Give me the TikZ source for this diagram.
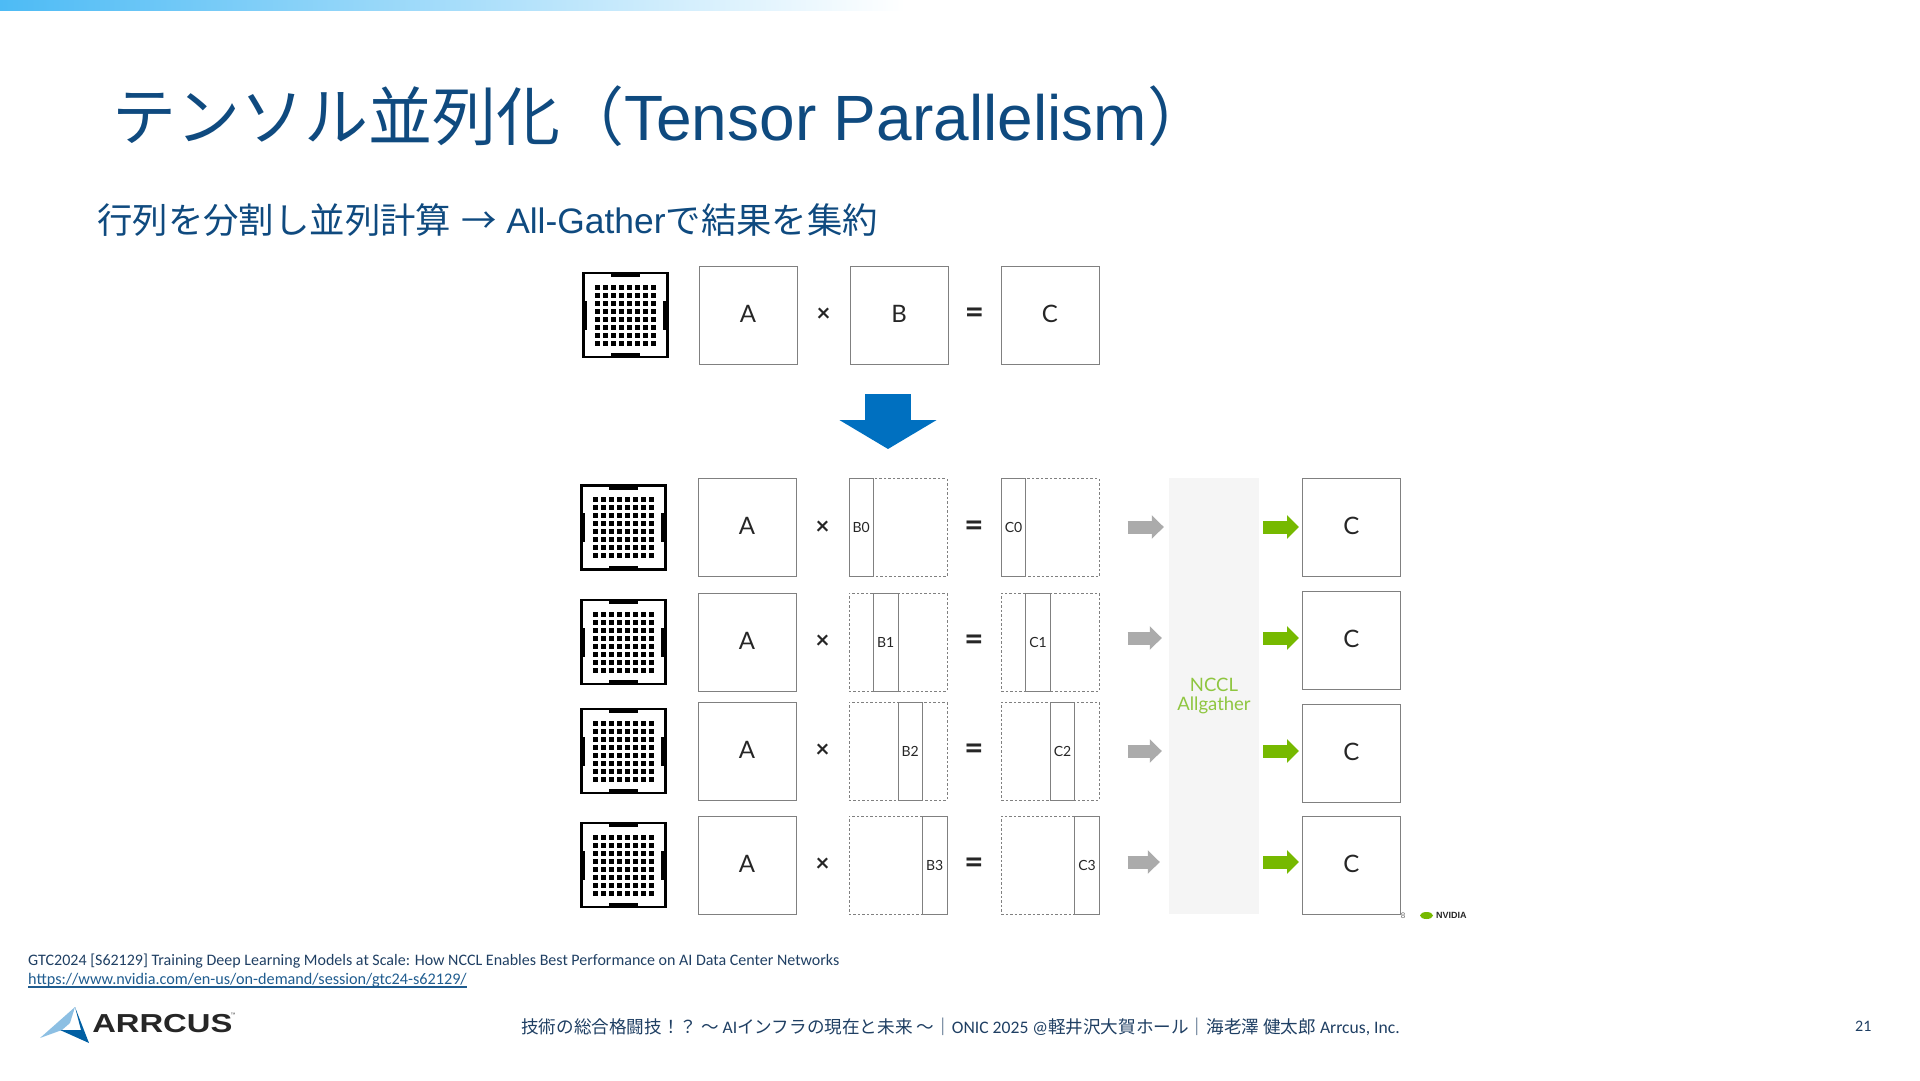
\documentclass[tikz,border=0pt]{standalone}
\usepackage{fontspec}
\setmainfont{Liberation Sans}
\newfontfamily\cjk{Noto Sans CJK JP}
\newfontfamily\lato{Lato}
\newfontfamily\foot{Carlito}
\usetikzlibrary{positioning,calc,arrows.meta}

\definecolor{titleblue}{HTML}{0F4A7F}
\definecolor{footblue}{HTML}{1F3F63}
\definecolor{linkblue}{HTML}{1F5C8F}
\definecolor{boxgray}{HTML}{808080}
\definecolor{flowgray}{HTML}{ABABAB}
\definecolor{flowgreen}{HTML}{76B900}
\definecolor{labelgreen}{HTML}{8FC640}
\definecolor{panelgray}{HTML}{F5F5F5}
\definecolor{downblue}{HTML}{0070C0}
\definecolor{barblue}{HTML}{4DBBF5}

\newcommand{\jp}[1]{{\cjk #1}}
\newcommand{\px}[1]{\fontsize{#1}{#1}\selectfont}

\begin{document}
\begin{tikzpicture}[
  x=1pt, y=-1pt,
  mat/.style={draw=boxgray, line width=1pt, minimum size=98pt, inner sep=0pt, text depth=3pt, font=\lato\px{24}, text=black!85},
  dashmat/.style={draw=boxgray, line width=0.8pt, dash pattern=on 2.5pt off 2pt, minimum size=98pt, inner sep=0pt},
  strip/.style={draw=boxgray, line width=1pt, minimum width=24.5pt, minimum height=98pt, inner sep=0pt, font=\lato\px{14}, text=black!85},
  chip/.style={draw=black, line width=2.6pt, minimum width=84pt, minimum height=84pt, inner sep=0pt},
  opsign/.style={font=\lato\bfseries\px{24}, text=black!85, inner sep=0pt},
  eqsign/.style={font=\lato\bfseries\px{33}, text=black!85, inner sep=0pt, yshift=-1pt},
  grayflow/.style={line width=13pt, draw=flowgray, -{Triangle[length=12pt, width=23pt]}},
  greenflow/.style={line width=13pt, draw=flowgreen, -{Triangle[length=12pt, width=23pt]}},
  footer/.style={font=\foot\px{16}, text=footblue, inner sep=0pt, anchor=base west}
]
\useasboundingbox (0,0) rectangle (1920,1080);
\fill[left color=barblue, right color=white] (0,0) rectangle (905,10);

\node[anchor=base west, inner sep=0pt, text=titleblue, font=\px{64}] (title) at (112,140)
  {\jp{テンソル並列化（}Tensor Parallelism\jp{）}};
\node[anchor=base west, inner sep=0pt, text=titleblue, font=\px{35.4}] (subtitle) at (97,233)
  {\jp{行列を分割し並列計算} \jp{→} All-Gather\jp{で結果を集約}};

% single device
\node[mat] (a) at (748,315) {A};
\node[mat, right=52pt of a] (b) {B};
\node[mat, right=52pt of b] (c) {C};
\node[chip, left=30pt of a] (chiptop) {};
\node[opsign] (times) at ($(a.east)!0.5!(b.west)$) {×};
\node[eqsign] (equals) at ($(b.east)!0.5!(c.west)$) {=};

\coordinate (splitfrom) at (888,394);
\coordinate (splitto) at (888,449);
\draw[line width=46pt, draw=downblue, -{Triangle[length=29pt, width=96pt]}] (splitfrom) -- (splitto);

% split over four devices
\node[fill=panelgray, minimum width=90pt, minimum height=436pt, inner sep=0pt] (nccl) at (1214,696) {};
\node[align=center, text=labelgreen, font=\lato\px{18.5}, inner sep=0pt] (ncclname) at (nccl.center)
  {NCCL\\[1pt]Allgather};

\foreach \i/\y/\off/\outy/\flowy/\grayend in {0/527.5/0/527.5/527/5,1/642/24.5/640/638/7,2/751/49/753/751/7,3/865/73.5/865/862/9}{
  \node[mat] (a\i) at (747,\y) {A};
  \node[dashmat, right=52pt of a\i] (b\i) {};
  \node[dashmat, right=53.5pt of b\i] (c\i) {};
  \node[strip, anchor=west] (bpart\i) at ([xshift=\off pt]b\i.west) {B\i};
  \node[strip, anchor=west] (cpart\i) at ([xshift=\off pt]c\i.west) {C\i};
  \node[chip, left=31pt of a\i] (chip\i) {};
  \node[opsign] (times\i) at ($(a\i.east)!0.5!(b\i.west)$) {×};
  \node[eqsign] (equals\i) at ($(b\i.east)!0.5!(c\i.west)$) {=};
  \node[mat] (out\i) at (1351.5,\outy) {C};
  \coordinate (flow\i) at (1214,\flowy);
  \draw[grayflow, shorten <=28pt, shorten >=\grayend pt] (c\i.east |- flow\i) -- (nccl.west |- flow\i);
  \draw[greenflow, shorten <=4pt, shorten >=3pt] (nccl.east |- flow\i) -- (out\i.west |- flow\i);
}

% package pads
\foreach \n in {chiptop,chip0,chip1,chip2,chip3}{
  \begin{scope}[shift={(\n.center)}]
    \foreach \dx in {-28,-20,...,28}
      \foreach \dy in {-28,-20,...,28}
        \fill (\dx-2.5,\dy-2.5) rectangle (\dx+2.5,\dy+2.5);
    \fill (-14.5,-43) rectangle (14.5,-38);
    \fill (-14.5,38) rectangle (14.5,43);
    \fill (-43,-14.5) rectangle (-38,14.5);
    \fill (38,-14.5) rectangle (43,14.5);
  \end{scope}
}

\node[inner sep=0pt, text=black!60, font=\px{8}] (slideno) at (1403,916) {8};
\fill[flowgreen] (1426.5,915.5) ellipse (6.5 and 3.5);
\node[anchor=west, inner sep=0pt, font=\bfseries\px{9}, text=black!85] (nvidia) at (1436,915.5) {NVIDIA};

\node[footer] (source) at (28,965)
  {GTC2024 [S62129] Training Deep Learning Models at Scale: How NCCL Enables Best Performance on AI Data Center Networks};
\node[footer, font=\foot\px{16.2}, text=linkblue] (link) at (28,984)
  {https://www.nvidia.com/en-us/on-demand/session/gtc24-s62129/};
\draw[linkblue, line width=1.3pt] (link.south west) -- (link.south east);
\node[footer, font=\foot\px{17.6}] (event) at (521,1033)
  {\jp{技術の総合格闘技！？ ～ }AI\jp{インフラの現在と未来 ～｜}ONIC 2025 @\jp{軽井沢大賀ホール｜海老澤 健太郎 }Arrcus, Inc.};
\node[footer] (page) at (1855,1031) {21};

% logo
\fill[downblue!45] (75,1007) -- (40,1038) -- (62,1030) -- (70,1023) -- cycle;
\fill[downblue!85!black] (75,1007) -- (89,1043) -- (60,1030) -- (81,1030) -- cycle;
\node[anchor=base west, inner sep=0pt, font=\bfseries\px{26}, text=black!85, xscale=1.26, transform shape] (arrcus) at (92,1032) {ARRCUS};
\node[inner sep=0pt, font=\px{5}, text=black!70] (trademark) at (233,1015) {™};
\end{tikzpicture}
\end{document}
